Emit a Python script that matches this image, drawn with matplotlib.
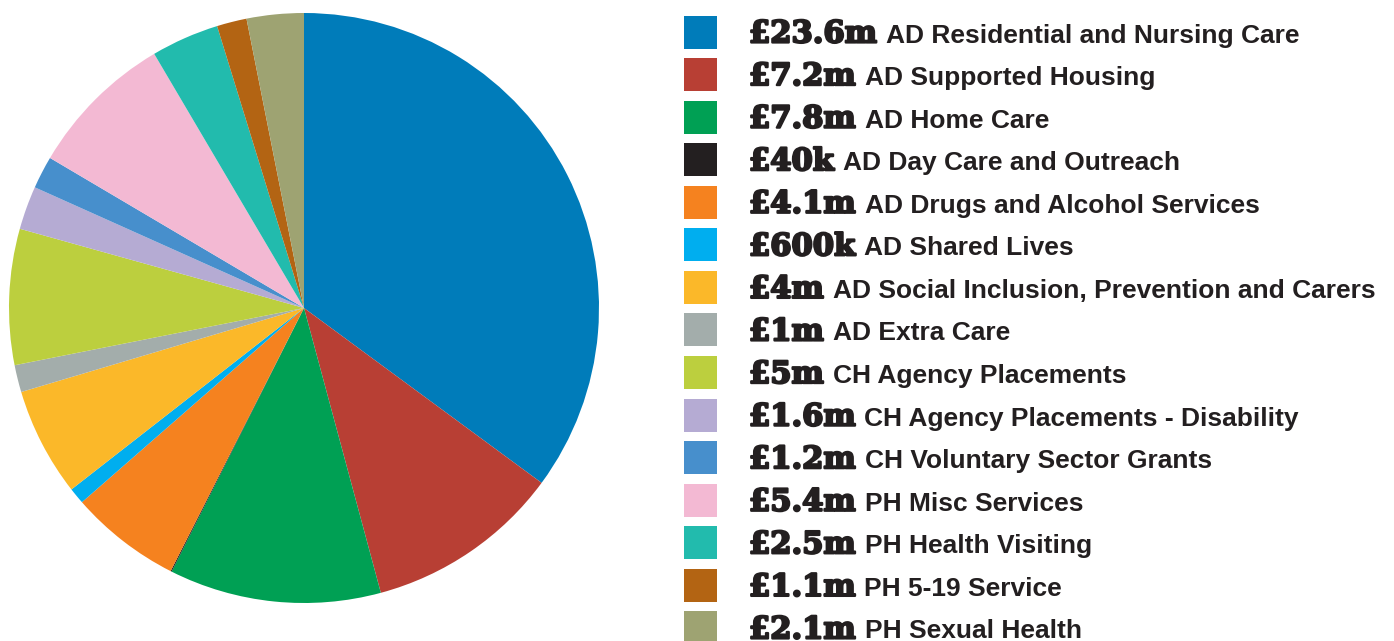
import matplotlib
matplotlib.use("Agg")
import matplotlib.pyplot as plt
import matplotlib.patheffects as pe
from matplotlib.patches import Rectangle

# spending by service
amounts = [23.6, 7.2, 7.8, 0.04, 4.1, 0.6, 4.0, 1.0, 5.0, 1.6, 1.2, 5.4, 2.5, 1.1, 2.1]
money_labels = ['£23.6m', '£7.2m', '£7.8m', '£40k', '£4.1m', '£600k', '£4m', '£1m',
                '£5m', '£1.6m', '£1.2m', '£5.4m', '£2.5m', '£1.1m', '£2.1m']
services = ['AD Residential and Nursing Care', 'AD Supported Housing', 'AD Home Care',
            'AD Day Care and Outreach', 'AD Drugs and Alcohol Services', 'AD Shared Lives',
            'AD Social Inclusion, Prevention and Carers', 'AD Extra Care',
            'CH Agency Placements', 'CH Agency Placements - Disability',
            'CH Voluntary Sector Grants', 'PH Misc Services', 'PH Health Visiting',
            'PH 5-19 Service', 'PH Sexual Health']
colours = ['#007cba', '#b83f34', '#00a054', '#231f20', '#f5821f', '#00aeef', '#fbb829',
           '#a3adab', '#bccf3e', '#b5abd3', '#478fcc', '#f3b9d3', '#22bbad', '#b36413',
           '#9ea372']

W, H = 1394, 641
fig = plt.figure(figsize=(W / 100, H / 100), dpi=100)

# pie centred at (304, 308) px, radius 295 px
cx, cy, r = 304, 308, 295
ax = fig.add_axes([(cx - r) / W, (H - cy - r) / H, 2 * r / W, 2 * r / H])
ax.pie(amounts, colors=colours, startangle=90, counterclock=False,
       wedgeprops=dict(linewidth=0), radius=1)
ax.set_xlim(-1, 1)
ax.set_ylim(-1, 1)
ax.set_aspect('equal')
ax.axis('off')

# legend drawn by hand
row0, step = 32, 42.57
sq = 33
txt_col = '#231f20'
fat = [pe.withStroke(linewidth=1.6, foreground=txt_col)]
fig.canvas.draw()
renderer = fig.canvas.get_renderer()
for i in range(len(amounts)):
    yc = row0 + i * step
    fig.patches.append(Rectangle((684 / W, (H - yc - sq / 2) / H), sq / W, sq / H,
                                 transform=fig.transFigure, color=colours[i], lw=0))
    base = (H - yc - 10.5) / H
    t = fig.text(749 / W, base, money_labels[i], family='DejaVu Serif', weight='bold',
                 fontsize=22, color=txt_col, va='baseline', ha='left', path_effects=fat)
    bb = t.get_window_extent(renderer)
    fig.text((bb.x1 + 9) / W, base, services[i], family='Liberation Sans', weight='bold',
             fontsize=19, color=txt_col, va='baseline', ha='left')

fig.savefig('out.png', dpi=100)
